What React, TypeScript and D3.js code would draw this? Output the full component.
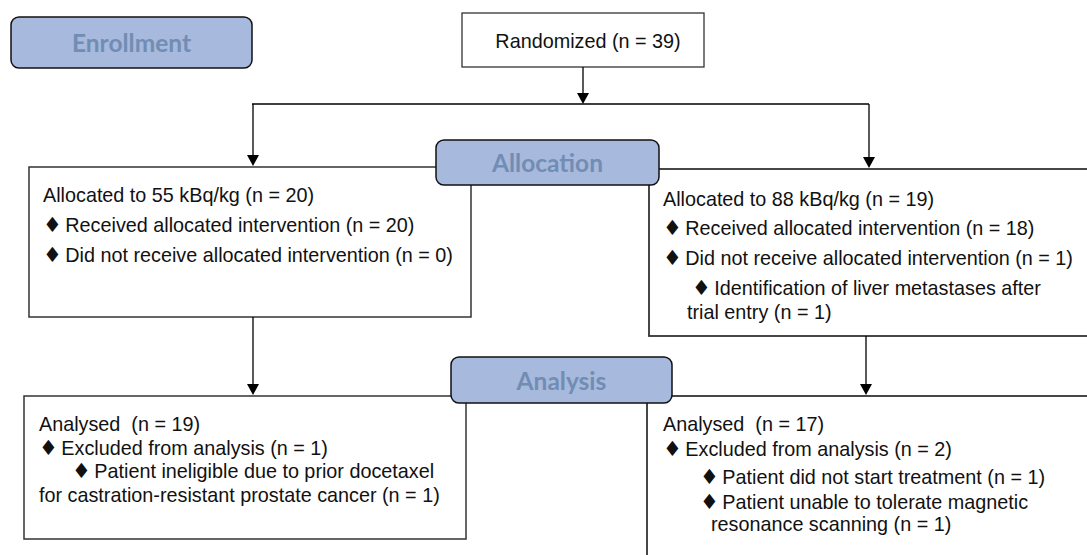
import React from "react";
import * as d3 from "d3";

const stageLabels = ["Enrollment", "Allocation", "Analysis"];
const randomizedText = "Randomized (n = 39)";
const allocLeftLines = [
  { text: "Allocated to 55 kBq/kg (n = 20)", level: 0 },
  { text: "\u2666 Received allocated intervention (n = 20)", level: 0 },
  { text: "\u2666 Did not receive allocated intervention (n = 0)", level: 0 },
];
const allocRightLines = [
  { text: "Allocated to 88 kBq/kg (n = 19)", level: 0 },
  { text: "\u2666 Received allocated intervention (n = 18)", level: 0 },
  { text: "\u2666 Did not receive allocated intervention (n = 1)", level: 0 },
  { text: "\u2666 Identification of liver metastases after", level: 1 },
  { text: "trial entry (n = 1)", level: 2 },
];
const analysisLeftLines = [
  { text: "Analysed  (n = 19)", level: 0 },
  { text: "\u2666 Excluded from analysis (n = 1)", level: 0 },
  { text: "\u2666 Patient ineligible due to prior docetaxel", level: 3 },
  { text: "for castration-resistant prostate cancer (n = 1)", level: 0 },
];
const analysisRightLines = [
  { text: "Analysed  (n = 17)", level: 0 },
  { text: "\u2666 Excluded from analysis (n = 2)", level: 0 },
  { text: "\u2666 Patient did not start treatment (n = 1)", level: 4 },
  { text: "\u2666 Patient unable to tolerate magnetic", level: 4 },
  { text: "resonance scanning (n = 1)", level: 5 },
];

const W = 1087;
const H = 555;
const STROKE = "#333";
const LABEL_FILL = "#a7b9dc";
const LABEL_TEXT = "#728db3";
const BODY_FONT = "'Liberation Sans', Arial, sans-serif";
const LABEL_FONT = "Lato, 'Open Sans', sans-serif";
const FS = 19.8;

const indent: Record<number, number> = { 0: 0, 1: 29, 2: 24, 3: 33, 4: 37, 5: 48 };

function Arrow({ x, y1, y2 }: { x: number; y1: number; y2: number }) {
  const tri = d3.line()([
    [x - 6, y2 - 11],
    [x + 6, y2 - 11],
    [x, y2],
  ]) + "Z";
  return (
    <g>
      <line x1={x} y1={y1} x2={x} y2={y2 - 10} stroke="#000" strokeWidth={1.3} />
      <path d={tri} fill="#000" />
    </g>
  );
}

function Label({ x, y, w, h, text }: { x: number; y: number; w: number; h: number; text: string }) {
  return (
    <g>
      <rect x={x} y={y} width={w} height={h} rx={8} ry={8} fill={LABEL_FILL} stroke="#111" strokeWidth={1.5} />
      <text
        x={x + w / 2}
        y={y + h / 2}
        textAnchor="middle"
        dominantBaseline="central"
        fontFamily={LABEL_FONT}
        fontWeight={700}
        fontSize={24.5}
        fill={LABEL_TEXT}
      >
        {text}
      </text>
    </g>
  );
}

function Line({ text, x, y }: { text: string; x: number; y: number }) {
  const hasDiamond = text.startsWith("\u2666");
  return (
    <text x={x} y={y} dominantBaseline="central" style={{ whiteSpace: "pre" }}>
      {hasDiamond ? (
        <>
          <tspan fontFamily="'DejaVu Sans', sans-serif" fontSize={21}>
            {"\u2666"}
          </tspan>
          <tspan dx={-2}>{text.slice(1)}</tspan>
        </>
      ) : (
        text
      )}
    </text>
  );
}

function Lines({
  lines,
  x,
  ys,
}: {
  lines: { text: string; level: number }[];
  x: number;
  ys: number[];
}) {
  return (
    <g fontFamily={BODY_FONT} fontSize={FS} fill="#111">
      {lines.map((l, i) => (
        <Line key={i} text={l.text} x={x + indent[l.level]} y={ys[i]} />
      ))}
    </g>
  );
}

export default function App() {
  return (
    <svg
      width={W}
      height={H}
      style={{ position: "absolute", left: 0, top: 0, background: "#fff" }}
    >
      <rect width={W} height={H} fill="#fff" />
      {/* Randomized */}
      <rect x={462} y={13} width={242} height={54} fill="#fff" stroke={STROKE} strokeWidth={1.3} />
      <text
        x={588}
        y={41}
        textAnchor="middle"
        dominantBaseline="central"
        fontFamily={BODY_FONT}
        fontSize={FS}
        fill="#111"
      >
        {randomizedText}
      </text>
      <Arrow x={583} y1={67} y2={104} />
      <line x1={252} y1={104} x2={869} y2={104} stroke="#000" strokeWidth={1.3} />
      <Arrow x={253} y1={104} y2={166} />
      <Arrow x={869} y1={104} y2={168} />

      {/* Allocation boxes */}
      <rect x={29} y={167} width={442} height={150} fill="#fff" stroke={STROKE} strokeWidth={1.5} />
      <rect x={649} y={169} width={460} height={167} fill="#fff" stroke={STROKE} strokeWidth={1.8} />
      <Lines lines={allocLeftLines} x={43} ys={[195, 225, 255]} />
      <Lines lines={allocRightLines} x={663} ys={[199, 228, 258, 288, 312]} />

      <Arrow x={253} y1={317} y2={395} />
      <Arrow x={866} y1={336} y2={395} />

      {/* Analysis boxes */}
      <rect x={24} y={396} width={442} height={143} fill="#fff" stroke={STROKE} strokeWidth={1.5} />
      <rect x={647} y={396} width={460} height={180} fill="#fff" stroke={STROKE} strokeWidth={1.8} />
      <Lines lines={analysisLeftLines} x={39} ys={[424, 448, 471, 495]} />
      <Lines lines={analysisRightLines} x={663} ys={[424, 449, 477, 502, 524]} />

      {/* Stage labels */}
      <Label x={11} y={17} w={241} h={51} text={stageLabels[0]} />
      <Label x={436} y={140} w={223} h={45} text={stageLabels[1]} />
      <Label x={451} y={357} w={221} h={46} text={stageLabels[2]} />
    </svg>
  );
}
